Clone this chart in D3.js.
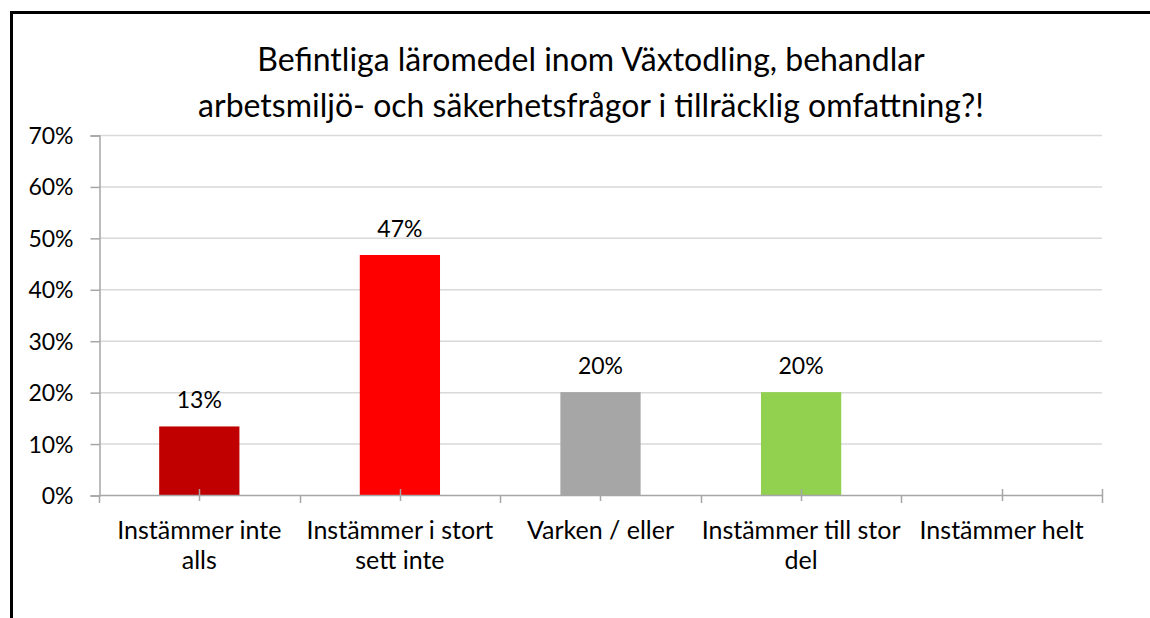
<!DOCTYPE html>
<html>
<head>
<meta charset="utf-8">
<script src="https://cdn.jsdelivr.net/npm/d3@7/dist/d3.min.js"></script>
<style>
  body { margin: 0; background: #fff; }
  svg { display: block; font-family: Lato, "Open Sans", sans-serif; }
</style>
</head>
<body>
<svg id="chart" width="1150" height="618"></svg>
<script>
// data
var categories = ["Instämmer inte alls", "Instämmer i stort sett inte", "Varken / eller", "Instämmer till stor del", "Instämmer helt"];
var categoryLines = [["Instämmer inte", "alls"], ["Instämmer i stort", "sett inte"], ["Varken / eller"], ["Instämmer till stor", "del"], ["Instämmer helt"]];
var values = [0.1333, 0.4667, 0.20, 0.20, 0];
var colors = ["#C00000", "#FF0000", "#A6A6A6", "#92D050", "#92D050"];
var yTicks = [0, 0.1, 0.2, 0.3, 0.4, 0.5, 0.6, 0.7];
var titleLines = ["Befintliga läromedel inom Växtodling, behandlar", "arbetsmiljö- och säkerhetsfrågor i tillräcklig omfattning?!"];

(function() {
    var svg = d3.select("#chart");
    var left = 99, right = 1102, plotTop = 135, plotBottom = 495;
    var pct = d3.format(".0%");

    // frame (left and top edges only)
    svg.append("path")
	.attr("d", "M11.5,618 L11.5,12.5 L1150,12.5")
	.attr("fill", "none").attr("stroke", "#000").attr("stroke-width", 3);

    var x = d3.scaleBand().domain(categories).range([left, right]).paddingInner(0.6).paddingOuter(0.3);
    var y = d3.scaleLinear().domain([0, 0.7]).range([plotBottom, plotTop]);
    var step = x.step();
    var mid = function(d) { return x(d) + x.bandwidth() / 2; };

    // gridlines
    svg.append("g").selectAll("line").data(yTicks.filter(function(d){ return d > 0; }))
	.enter().append("line")
	.attr("x1", left).attr("x2", right)
	.attr("y1", function(d){ return y(d) + 0.5; }).attr("y2", function(d){ return y(d) + 0.5; })
	.attr("stroke", "#D9D9D9").attr("stroke-width", 1.5);

    // y axis
    var yAxis = d3.axisLeft(y).tickValues(yTicks).tickFormat(pct).tickSize(9).tickPadding(17);
    var gy = svg.append("g").attr("transform", "translate(" + (left + 0.5) + ",0.5)").call(yAxis);
    gy.select(".domain").attr("stroke", "#A6A6A6").attr("stroke-width", 1.5);
    gy.selectAll(".tick line").attr("stroke", "#A6A6A6").attr("stroke-width", 1.5);
    gy.selectAll("text").attr("font-size", 23).attr("fill", "#000").attr("dy", "0.35em")
	.attr("font-family", "Lato, sans-serif");

    // bars
    svg.append("g").selectAll("rect").data(values).enter().append("rect")
	.attr("x", function(d, i){ return x(categories[i]); })
	.attr("y", function(d){ return y(d); })
	.attr("width", x.bandwidth())
	.attr("height", function(d){ return plotBottom - y(d); })
	.attr("fill", function(d, i){ return colors[i]; });

    // x axis line and ticks
    var gx = svg.append("g");
    gx.append("line").attr("x1", left).attr("x2", right + 1)
	.attr("y1", plotBottom + 0.5).attr("y2", plotBottom + 0.5)
	.attr("stroke", "#A6A6A6").attr("stroke-width", 1.5);
    var bounds = d3.range(categories.length + 1).map(function(i){ return left + i * step; });
    gx.selectAll(".b").data(bounds).enter().append("line")
	.attr("x1", function(d){ return Math.round(d) + 0.5; }).attr("x2", function(d){ return Math.round(d) + 0.5; })
	.attr("y1", function(d, i){ return i === bounds.length - 1 ? plotBottom - 6 : plotBottom; })
	.attr("y2", plotBottom + 8)
	.attr("stroke", "#A6A6A6").attr("stroke-width", 1.5);
    gx.selectAll(".c").data(categories).enter().append("line")
	.attr("x1", function(d){ return Math.round(mid(d)) + 0.5; })
	.attr("x2", function(d){ return Math.round(mid(d)) + 0.5; })
	.attr("y1", plotBottom - 6).attr("y2", plotBottom + 6)
	.attr("stroke", "#A6A6A6").attr("stroke-width", 1.5);

    // category labels
    svg.append("g").selectAll("text").data(categories).enter().append("text")
	.attr("text-anchor", "middle").attr("font-size", 25).attr("fill", "#000")
	.attr("x", mid)
	.attr("y", 539)
	.each(function(d, i){
	    var t = d3.select(this);
	    categoryLines[i].forEach(function(line, j){
		t.append("tspan").attr("x", mid(d)).attr("dy", j === 0 ? 0 : 30).text(line);
	    });
	});

    // data labels (none for the empty bar)
    svg.append("g").selectAll("text").data(values).enter().append("text")
	.attr("text-anchor", "middle").attr("font-size", 23).attr("fill", "#000")
	.attr("x", function(d, i){ return mid(categories[i]); })
	.attr("y", function(d){ return y(d) - 18; })
	.text(function(d){ return d > 0 ? pct(d) : ""; });

    // title
    svg.append("g").selectAll("text").data(titleLines).enter().append("text")
	.attr("text-anchor", "middle").attr("font-size", 32).attr("fill", "#000")
	.attr("x", 591).attr("y", function(d, i){ return 71 + i * 46; })
	.text(function(d){ return d; });
}());
</script>
</body>
</html>
